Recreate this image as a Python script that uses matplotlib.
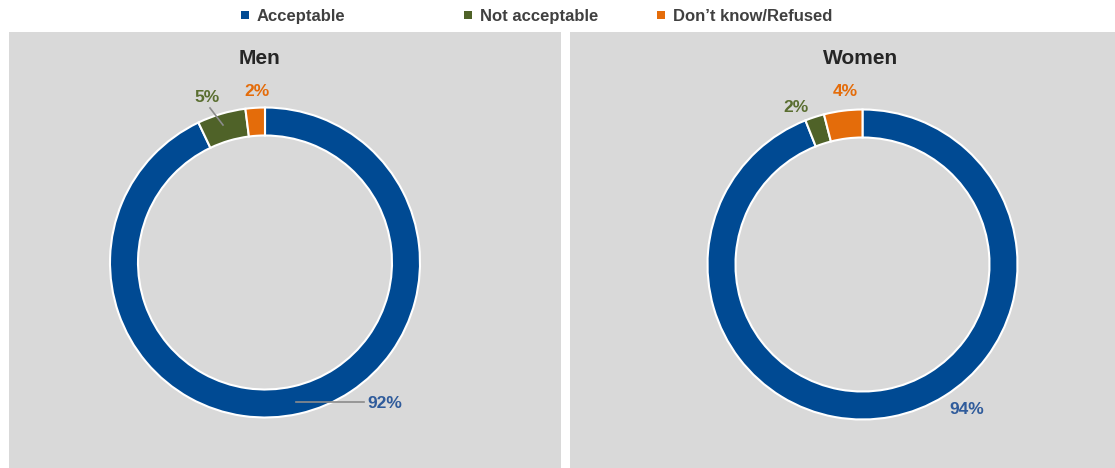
import matplotlib.pyplot as plt
from matplotlib.patches import Rectangle

# Survey responses by group (percent)
categories = ["Acceptable", "Not acceptable", "Don\u2019t know/Refused"]
groups = ["Men", "Women"]
men_values = [92, 5, 2]
women_values = [94, 2, 4]

colors = ["#004a93", "#4f6228", "#e46c0a"]
label_colors = ["#2f5b9b", "#5a6e30", "#e46c0a"]

W, H = 1115, 468
fig = plt.figure(figsize=(W / 100, H / 100), dpi=100)
fig.patch.set_facecolor("white")
ax = fig.add_axes([0, 0, 1, 1])
ax.set_xlim(0, W)
ax.set_ylim(0, H)
ax.axis("off")

def Y(y):
    return H - y

FONT = "Liberation Sans"

# Panel backgrounds
panels = [(9, 32, 552, 436), (570, 32, 545, 436)]
for x0, y0, w, h in panels:
    ax.add_patch(Rectangle((x0, Y(y0 + h)), w, h, facecolor="#d9d9d9",
                           edgecolor="none", zorder=0))

# Legend across the top
legend_x = [245, 468, 661]
for cx, name, col in zip(legend_x, categories, colors):
    ax.add_patch(Rectangle((cx - 4, Y(15) - 4), 8, 8, facecolor=col,
                           edgecolor="none", zorder=3))
    ax.text(cx + 12, Y(21), name, fontsize=12, fontweight="bold",
            color="#404040", va="baseline", ha="left", family=FONT)

centers = [(265, 262.5), (862.5, 264.5)]
title_pos = [(259, 58), (861, 59)]
radius = 155
ring = 28

data = [men_values, women_values]
# Label placements (text centre) for each slice, per group
label_xy = [
    [(385, 404), (207, 97), (257, 92)],
    [(967, 410), (796, 107), (845, 92)],
]
leaders = [
    [((296, 402), (364, 402)), ((223, 125), (210, 108)), None],
    [None, None, None],
]

for gi, (grp, vals) in enumerate(zip(groups, data)):
    cx, cy = centers[gi]
    ax.pie(vals, colors=colors, startangle=90, counterclock=False,
           center=(cx, Y(cy)), radius=radius, frame=True,
           wedgeprops=dict(width=ring, edgecolor="white", linewidth=1.5))
    tx, ty = title_pos[gi]
    ax.text(tx, Y(ty), grp, fontsize=15, fontweight="bold", color="#262626",
            ha="center", va="center", family=FONT)
    for si, v in enumerate(vals):
        lx, ly = label_xy[gi][si]
        ax.text(lx, Y(ly), f"{v}%", fontsize=12.5, fontweight="bold",
                color=label_colors[si], ha="center", va="center", family=FONT,
                zorder=5)
        seg = leaders[gi][si]
        if seg is not None:
            (x1, y1), (x2, y2) = seg
            ax.plot([x1, x2], [Y(y1), Y(y2)], color="#8c8c8c", lw=1.2, zorder=4)

ax.set_xlim(0, W)
ax.set_ylim(0, H)
ax.set_aspect("auto")
ax.axis("off")

fig.savefig("out.png", dpi=100, facecolor="white")
